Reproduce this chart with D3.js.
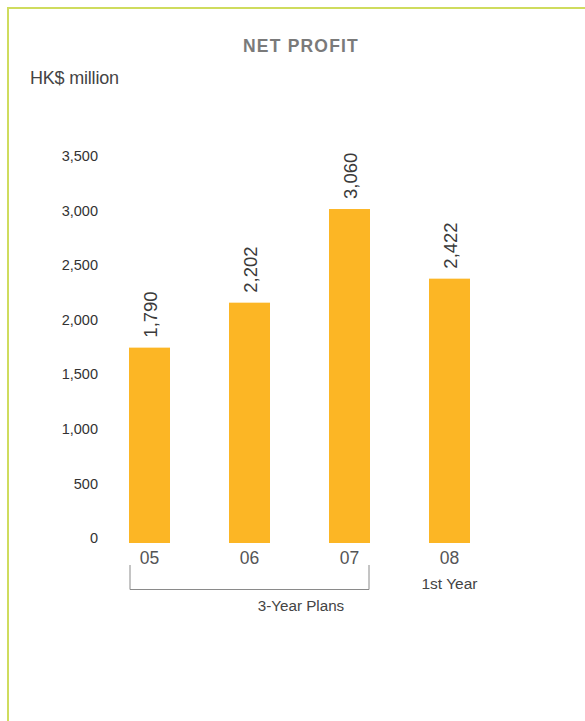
<!DOCTYPE html>
<html><head><meta charset="utf-8">
<script src="https://cdn.jsdelivr.net/npm/d3@7"></script>
<style>body{margin:0;background:#fff;}svg{display:block;font-family:"Liberation Sans",Arial,sans-serif;}</style>
</head><body>
<script>
const categories = ["05","06","07","08"];
const values = [1790, 2202, 3060, 2422];
const valueLabels = ["1,790","2,202","3,060","2,422"];
const yTicks = [0,500,1000,1500,2000,2500,3000,3500];
const title = "NET PROFIT";
const unitLabel = "HK$ million";
const subLabel08 = "1st Year";
const bracketLabel = "3-Year Plans";

const W = 585, H = 721;
const svg = d3.select("body").append("svg").attr("width", W).attr("height", H);

// border
svg.append("path").attr("d", `M8,${H+2} L8,8 L${W+2},8`).attr("fill","none")
  .attr("stroke","#cfdc5e").attr("stroke-width",2);

svg.append("text").attr("x",301).attr("y",52).attr("text-anchor","middle")
  .attr("font-size",17.5).attr("font-weight","bold").attr("fill","#7a7a7a")
  .attr("letter-spacing",1.2).text(title);
svg.append("text").attr("x",30).attr("y",84).attr("font-size",18).attr("fill","#444")
  .attr("letter-spacing",-0.2).text(unitLabel);

const x = d3.scaleBand().domain(categories).range([99.5, 499.5]).paddingInner(0.59).paddingOuter(0.295);
const y = d3.scaleLinear().domain([0,3500]).range([543,161]);

// y axis labels
const yAxis = d3.axisLeft(y).tickValues(yTicks).tickFormat(d3.format(",")).tickSize(0).tickPadding(0);
const ya = svg.append("g").attr("transform","translate(98,-5)").call(yAxis);
ya.select(".domain").remove();
ya.selectAll("text").attr("font-size",14.5).attr("fill","#333").attr("font-family","Liberation Sans, Arial, sans-serif");

// bars
svg.selectAll("rect.bar").data(values).enter().append("rect").attr("class","bar")
  .attr("x",(d,i)=>x(categories[i])).attr("width",x.bandwidth())
  .attr("y",d=>y(d)).attr("height",d=>y(0)-y(d)).attr("fill","#fcb625");

// value labels
svg.selectAll("text.val").data(values).enter().append("text").attr("class","val")
  .attr("transform",(d,i)=>`translate(${x(categories[i])+x.bandwidth()/2+7},${y(d)-10}) rotate(-90)`)
  .attr("font-size",18.5).attr("fill","#3a3a3a").text((d,i)=>valueLabels[i]);

// x axis labels
const xAxis = d3.axisBottom(x).tickSize(0).tickPadding(0);
const xa = svg.append("g").attr("transform","translate(0,564)").call(xAxis);
xa.select(".domain").remove();
xa.selectAll("text").attr("font-size",17.5).attr("fill","#555").attr("dy",0)
  .attr("font-family","Liberation Sans, Arial, sans-serif");

svg.append("text").attr("x",x("08")+x.bandwidth()/2).attr("y",589).attr("text-anchor","middle")
  .attr("font-size",15.5).attr("fill","#444").text(subLabel08);

// bracket
const bl = x("05"), br = x("07")+x.bandwidth();
svg.append("path").attr("d",`M${bl+1},565 L${bl+1},589.5 L${br-1},589.5 L${br-1},565`)
  .attr("fill","none").attr("stroke","#8a8a8a").attr("stroke-width",1);
svg.append("text").attr("x",301).attr("y",611).attr("text-anchor","middle")
  .attr("font-size",15.2).attr("fill","#444").text(bracketLabel);
</script>
</body></html>
